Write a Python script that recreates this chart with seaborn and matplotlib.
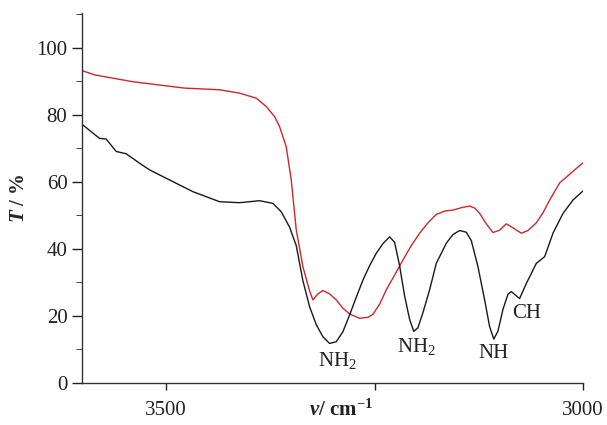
import numpy as np
import pandas as pd
import matplotlib
matplotlib.use("Agg")
import matplotlib.pyplot as plt
import seaborn as sns
from matplotlib.ticker import MultipleLocator

# ---- data ----
red_x = [3601, 3585, 3540, 3478, 3436, 3412, 3392, 3380, 3370, 3364, 3356, 3350, 3344,
         3336, 3328, 3324, 3318, 3312, 3304, 3296, 3288, 3280, 3268, 3258, 3252, 3244,
         3236, 3226, 3216, 3206, 3196, 3186, 3176, 3166, 3156, 3146, 3136, 3130, 3124,
         3116, 3108, 3100, 3092, 3084, 3074, 3066, 3056, 3048, 3040, 3028, 3010, 3000]
red_y = [93.2, 91.9, 89.9, 88.0, 87.5, 86.5, 85.0, 82.5, 79.5, 76.5, 70.5, 60.6, 45.7,
         34.7, 27.5, 24.8, 26.6, 27.6, 26.6, 24.8, 22.3, 20.6, 19.3, 19.6, 20.5, 23.5,
         27.8, 32.2, 36.7, 41.0, 44.7, 47.8, 50.3, 51.3, 51.6, 52.3, 52.8, 52.2, 50.6,
         47.5, 44.9, 45.6, 47.5, 46.3, 44.7, 45.5, 47.8, 50.8, 54.6, 59.7, 63.6, 65.7]

black_x = [3601, 3580, 3572, 3560, 3548, 3532, 3520, 3496, 3468, 3436, 3412, 3388,
           3372, 3362, 3352, 3344, 3336, 3328, 3320, 3312, 3304, 3296, 3288, 3280,
           3272, 3264, 3256, 3248, 3240, 3232, 3226, 3220, 3214, 3208, 3203, 3198,
           3192, 3184, 3176, 3164, 3156, 3148, 3140, 3134, 3126, 3118, 3112, 3107,
           3102, 3096, 3090, 3086, 3080, 3076, 3068, 3056, 3046, 3036, 3024, 3012, 3000]
black_y = [77.2, 73.0, 72.8, 69.1, 68.4, 65.6, 63.6, 60.6, 57.1, 54.1, 53.8, 54.4,
           53.6, 51.1, 46.5, 41.0, 30.5, 22.8, 17.4, 13.8, 11.8, 12.3, 15.3, 20.3,
           25.6, 30.7, 35.0, 38.7, 41.6, 43.6, 42.0, 35.0, 26.0, 19.0, 15.4, 16.5,
           21.0, 27.8, 35.7, 41.7, 44.3, 45.5, 45.0, 42.5, 34.7, 24.8, 16.8, 13.1,
           15.5, 22.0, 26.5, 27.3, 26.0, 25.2, 29.7, 35.7, 37.7, 44.7, 50.6, 54.6, 57.3]

band_labels = ["NH$_2$", "NH$_2$", "NH", "CH"]
band_x = [3295, 3200, 3107, 3068]
band_y = [6.8, 10.8, 8.8, 20.8]

xtick_vals = [3500, 3250, 3000]
xtick_text = ["3500", "", "3000"]
ytick_vals = [0, 20, 40, 60, 80, 100]

df = pd.concat([
    pd.DataFrame({"x": red_x, "T": red_y, "s": "red"}),
    pd.DataFrame({"x": black_x, "T": black_y, "s": "black"}),
])

sns.set_style("ticks")
plt.rcParams["font.family"] = ["Liberation Serif", "DejaVu Serif"]
plt.rcParams["mathtext.fontset"] = "custom"
plt.rcParams["mathtext.rm"] = "Liberation Serif"
plt.rcParams["mathtext.it"] = "Liberation Serif:italic:bold"
plt.rcParams["mathtext.bf"] = "Liberation Serif:bold"

fig = plt.figure(figsize=(6.07, 4.25), dpi=100)
ax = fig.add_axes([82 / 607, 1 - 383 / 425, (583 - 82) / 607, (383 - 12.7) / 425])

sns.lineplot(data=df, x="x", y="T", hue="s", palette={"red": "#d0262c", "black": "#1a1a1a"},
             estimator=None, sort=False, linewidth=1.0, legend=False, ax=ax)

ax.set_xlim(3601, 3000)
ax.set_ylim(0, 110.5)
ax.set_xticks(xtick_vals)
ax.set_xticklabels(xtick_text)
ax.set_yticks(ytick_vals)
ax.yaxis.set_minor_locator(MultipleLocator(10))
ax.tick_params(axis="both", labelsize=15, colors="#222222", width=1)
ax.tick_params(axis="y", which="major", length=7, direction="out")
ax.tick_params(axis="y", which="minor", length=4, direction="out")
ax.tick_params(axis="x", which="major", length=5, direction="out", pad=8)
for s in ["top", "right"]:
    ax.spines[s].set_visible(False)
for s in ["left", "bottom"]:
    ax.spines[s].set_color("#333333")
    ax.spines[s].set_linewidth(1.0)

ax.set_xlabel("")
ax.set_ylabel(r"$\mathit{T}$ / %", fontsize=15, fontweight="bold", labelpad=5)
fig.text(341 / 607, 4 / 425, r"$\mathit{\nu}$/ cm$^{-\mathbf{1}}$", fontsize=15,
         fontweight="bold", ha="center", va="bottom", color="#222222")

for lab, bx, by in zip(band_labels, band_x, band_y):
    ax.text(bx, by, lab, fontsize=15, ha="center", va="center", color="#222222")

fig.savefig("out.png", dpi=100)
